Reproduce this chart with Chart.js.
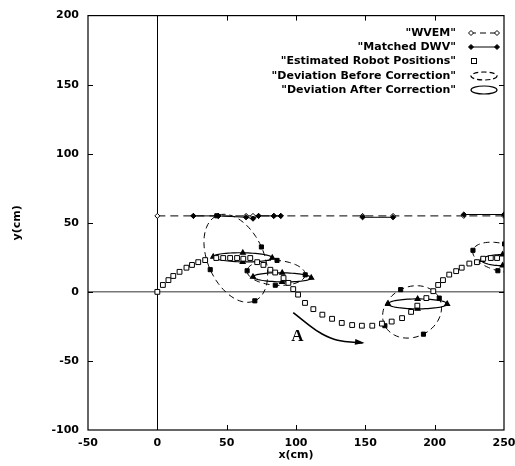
<!DOCTYPE html>
<html>
<head>
<meta charset="utf-8">
<script src="https://cdn.jsdelivr.net/npm/chart.js@4"></script>
<style>
  html, body { margin: 0; padding: 0; background: #fff; }
  canvas { display: block; }
</style>
</head>
<body>
<canvas id="myChart" width="515" height="466"></canvas>
<script>
// axis ticks
const xTicks = [-50, 0, 50, 100, 150, 200, 250];
const yTicks = [-100, -50, 0, 50, 100, 150, 200];

// WVEM line
const wvemX = [0, 26, 44, 64, 69, 73, 84, 89, 148, 170, 221, 250];
const wvemY = [55, 55, 55, 55, 55, 55, 55, 55, 55, 55, 55, 55];

// matched DWV segments (null = gap)
const dwvX = [26, 44, 64, 69, 73, 84, 89, null, 148, 170, null, 221, 250];
const dwvY = [55, 55, 54, 53, 55, 55, 55, null, 54, 54, null, 56, 56];

// estimated robot positions
const robotX = [0, 4, 8, 11.5, 16, 21, 25, 29.5, 34.5, 42.5, 47.5, 52.5, 57.5, 62, 67, 72, 76.5, 81.5, 85, 91, 94.5, 98, 101.5,
  106.5, 112.5, 119, 126, 133, 140.5, 147.5, 155, 162, 169, 176.5, 183, 187.5, 194, 199, 202.5, 206, 210.5, 215.5, 219.5,
  225, 230.5, 235, 240.5, 245];
const robotY = [0, 5, 8.5, 11.5, 14.5, 17.5, 19.5, 21.5, 23, 24.5, 24.5, 24.5, 24.5, 24, 24.5, 21.5, 19.5, 16, 14, 10, 6.5, 2, -2,
  -8, -12.5, -16.5, -19.5, -22.5, -24, -24.5, -24.5, -23, -21.5, -19, -14.5, -10, -4.5, 0.5, 5, 8.5, 12.5, 15, 17.5,
  20.5, 21.5, 24, 24.5, 24.5];

// deviation before correction: centre, semi axes, rotation (deg)
const beforeCx = [56.6, 85.7, 183.7, 248];
const beforeCy = [24.3, 13.8, -14.5, 25];
const beforeA = [33.7, 21, 22, 21];
const beforeB = [20.2, 9, 18.1, 10];
const beforeAng = [-66, -4, 27, -14];

// deviation after correction
const afterCx = [61.6, 90, 187.7, 249];
const afterCy = [25, 10.5, -8.7, 23];
const afterA = [21.3, 21, 21.3, 15];
const afterB = [3.3, 3.3, 3.6, 4];
const afterAng = [-1, -1, 0, 0];

// arrow "A"
const arrowX = [98, 108, 118, 130, 148];
const arrowY = [-15, -23, -30, -35, -37];

const FONT = 'DejaVu Sans';

function toPoints(xs, ys) {
  return xs.map((x, i) => (x === null ? { x: NaN, y: null } : { x: x, y: ys[i] }));
}

function ellipse(cx, cy, a, b, deg) {
  const t = deg * Math.PI / 180;
  const pts = [];
  for (let i = 0; i <= 72; i++) {
    const u = i / 72 * 2 * Math.PI;
    const ex = a * Math.cos(u), ey = b * Math.sin(u);
    pts.push({ x: cx + ex * Math.cos(t) - ey * Math.sin(t), y: cy + ex * Math.sin(t) + ey * Math.cos(t) });
  }
  return pts;
}

// marks only at the four axis ends of each ellipse
const axisMarks = r => ctx => (ctx.dataIndex % 18 === 0 && ctx.dataIndex < 72) ? r : 0;

const datasets = [
  {
    label: '"WVEM"', data: toPoints(wvemX, wvemY), showLine: true, order: 9,
    borderColor: '#000', borderWidth: 1, borderDash: [8, 5],
    pointStyle: 'rectRot', pointRadius: 2.5, pointBackgroundColor: '#fff', pointBorderColor: '#000', pointBorderWidth: 1
  },
  {
    label: '"Matched DWV"', data: toPoints(dwvX, dwvY), showLine: true, spanGaps: false, order: 8,
    borderColor: '#000', borderWidth: 1,
    pointStyle: 'rectRot', pointRadius: 2.6, pointBackgroundColor: '#000', pointBorderColor: '#000'
  },
  {
    label: '"Estimated Robot Positions"', data: toPoints(robotX, robotY), showLine: false, order: 1,
    pointStyle: 'rect', pointRadius: 3.4, pointBackgroundColor: '#fff', pointBorderColor: '#000', pointBorderWidth: 1
  }
];

beforeCx.forEach((cx, i) => {
  datasets.push({
    label: i === 0 ? '"Deviation Before Correction"' : '',
    data: ellipse(cx, beforeCy[i], beforeA[i], beforeB[i], beforeAng[i]), showLine: true, order: 3,
    borderColor: '#000', borderWidth: 1, borderDash: [6, 4],
    pointStyle: 'rect', pointRadius: axisMarks(2.9), pointBackgroundColor: '#000', pointBorderColor: '#000'
  });
});

afterCx.forEach((cx, i) => {
  datasets.push({
    label: i === 0 ? '"Deviation After Correction"' : '',
    data: ellipse(cx, afterCy[i], afterA[i], afterB[i], afterAng[i]), showLine: true, order: 2,
    borderColor: '#000', borderWidth: 1.2,
    pointStyle: 'triangle', pointRadius: axisMarks(2.8), pointBackgroundColor: '#000', pointBorderColor: '#000'
  });
});

datasets.push({
  label: 'arrow', data: toPoints(arrowX, arrowY), showLine: true, tension: 0.4, order: 0,
  borderColor: '#000', borderWidth: 1.6, pointRadius: 0
});

const extras = {
  id: 'extras',
  afterDatasetsDraw(chart) {
    const c = chart.ctx, a = chart.chartArea;
    const xs = chart.scales.x, ys = chart.scales.y;
    c.save();

    // arrow head
    const meta = chart.getDatasetMeta(datasets.length - 1).data;
    const p1 = meta[meta.length - 2], p2 = meta[meta.length - 1];
    const ang = Math.atan2(p2.y - p1.y, p2.x - p1.x);
    c.fillStyle = '#000';
    c.beginPath();
    c.moveTo(p2.x + 2, p2.y);
    c.lineTo(p2.x + 2 - 10 * Math.cos(ang - 0.3), p2.y - 10 * Math.sin(ang - 0.3));
    c.lineTo(p2.x + 2 - 10 * Math.cos(ang + 0.3), p2.y - 10 * Math.sin(ang + 0.3));
    c.closePath();
    c.fill();

    // label A
    c.font = 'bold 17px "Liberation Serif"';
    c.textAlign = 'center';
    c.textBaseline = 'middle';
    c.fillText('A', xs.getPixelForValue(101), ys.getPixelForValue(-32.6));

    // frame and inward ticks
    c.strokeStyle = '#000';
    c.lineWidth = 1.2;
    c.strokeRect(a.left, a.top, a.right - a.left, a.bottom - a.top);
    c.lineWidth = 1;
    c.beginPath();
    xTicks.slice(1, -1).forEach(v => {
      const px = Math.round(xs.getPixelForValue(v)) + 0.5;
      c.moveTo(px, a.bottom); c.lineTo(px, a.bottom - 5);
      c.moveTo(px, a.top); c.lineTo(px, a.top + 5);
    });
    yTicks.slice(1, -1).forEach(v => {
      const py = Math.round(ys.getPixelForValue(v)) + 0.5;
      c.moveTo(a.left, py); c.lineTo(a.left + 5, py);
      c.moveTo(a.right, py); c.lineTo(a.right - 5, py);
    });
    c.stroke();

    // legend
    c.font = 'bold 11px ' + FONT;
    c.textAlign = 'right';
    c.textBaseline = 'middle';
    const rows = [33, 47, 61, 76, 90];
    const labels = [datasets[0].label, datasets[1].label, datasets[2].label, datasets[3].label, datasets[7].label];
    const sx0 = 470, sx1 = 498;
    labels.forEach((t, i) => {
      const y = rows[i];
      c.fillStyle = '#000';
      c.fillText(t, 456, y);
      c.lineWidth = 1;
      c.setLineDash([]);
      if (i === 0 || i === 1) {
        c.setLineDash(i === 0 ? [6, 4] : []);
        c.beginPath(); c.moveTo(sx0, y); c.lineTo(sx1, y); c.stroke();
        c.setLineDash([]);
        [sx0 + 1, sx1 - 1].forEach(x => {
          c.beginPath();
          c.moveTo(x, y - 2.5); c.lineTo(x + 2.5, y); c.lineTo(x, y + 2.5); c.lineTo(x - 2.5, y); c.closePath();
          c.fillStyle = i === 0 ? '#fff' : '#000';
          c.fill(); c.stroke();
        });
      } else if (i === 2) {
        c.fillStyle = '#fff';
        c.fillRect(471.5, y - 2.5, 5, 5);
        c.strokeRect(471.5, y - 2.5, 5, 5);
      } else {
        c.setLineDash(i === 3 ? [5, 3] : []);
        c.lineWidth = 1.2;
        c.beginPath(); c.ellipse(484, y, 13, 4, 0, 0, 2 * Math.PI); c.stroke();
        c.setLineDash([]);
      }
    });
    c.restore();
  }
};

new Chart(document.getElementById('myChart'), {
  type: 'scatter',
  data: { datasets: datasets },
  options: {
    responsive: false,
    animation: false,
    events: [],
    layout: { padding: { left: 0, right: 11, top: 15, bottom: 0 } },
    plugins: { legend: { display: false }, tooltip: { enabled: false } },
    scales: {
      x: {
        type: 'linear', min: -50, max: 250,
        afterBuildTicks: s => { s.ticks = xTicks.map(v => ({ value: v })); },
        afterFit: s => { s.height = 36; s.paddingLeft = 0; s.paddingRight = 0; },
        border: { display: false },
        grid: {
          drawTicks: false,
          color: ctx => (ctx.tick && ctx.tick.value === 0 ? '#000' : 'transparent'),
          lineWidth: 1
        },
        ticks: { padding: 7, color: '#000', font: { family: FONT, size: 11, weight: 'bold' }, maxRotation: 0 },
        title: { display: true, text: 'x(cm)', color: '#000', font: { family: FONT, size: 11, weight: 'bold' }, padding: { top: 0, bottom: 4 } }
      },
      y: {
        type: 'linear', min: -100, max: 200,
        afterBuildTicks: s => { s.ticks = yTicks.map(v => ({ value: v })); },
        afterFit: s => { s.width = 88; },
        border: { display: false },
        grid: {
          drawTicks: false,
          color: ctx => (ctx.tick && ctx.tick.value === 0 ? '#777' : 'transparent'),
          lineWidth: 1.6
        },
        ticks: { padding: 9, color: '#000', font: { family: FONT, size: 11, weight: 'bold' } },
        title: { display: true, text: 'y(cm)', color: '#000', font: { family: FONT, size: 11, weight: 'bold' }, padding: { top: 11, bottom: 0 } }
      }
    }
  },
  plugins: [extras]
});
</script>
</body>
</html>
